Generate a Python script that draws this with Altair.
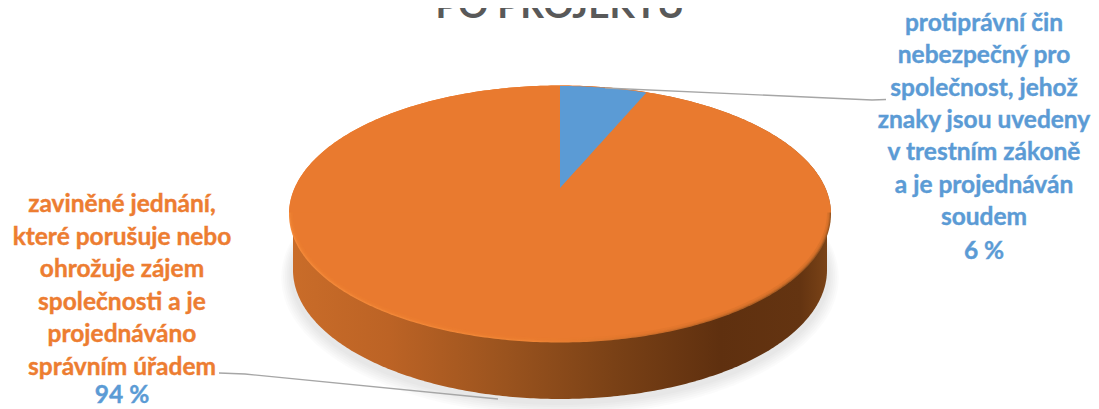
import numpy as np
import pandas as pd
import altair as alt

shares = [6, 94]
share_labels = ["6 %", "94 %"]
title_text = "PO PROJEKTU"
blue_lines = ["protiprávní čin", "nebezpečný pro", "společnost, jehož", "znaky jsou uvedeny",
              "v trestním zákoně", "a je projednáván", "soudem"]
orange_lines = ["zaviněné jednání,", "které porušuje nebo", "ohrožuje zájem",
                "společnosti a je", "projednáváno", "správním úřadem"]

BLUE, ORANGE = "#5B9BD5", "#ED7D31"
xs = alt.Scale(domain=[8, 1091], range=[0, 1083])
ys = alt.Scale(domain=[8, 409], range=[0, 401])


def ellipse(cx, cy, rx, ry, n=240):
    t = np.linspace(0, np.pi, n)
    x = cx - rx * np.cos(t)
    return pd.DataFrame({"x": x, "y": cy - ry * np.sin(t), "y2": cy + ry * np.sin(t)})


def area(df, **kw):
    return alt.Chart(df).mark_area(**kw).encode(
        x=alt.X("x:Q", scale=xs, axis=None),
        y=alt.Y("y:Q", scale=ys, axis=None),
        y2="y2:Q",
    )


def grad(stops):
    return alt.LinearGradient(gradient="linear", x1=0, x2=1, y1=0, y2=0,
                              stops=[alt.GradientStop(color=c, offset=o) for o, c in stops])


# soft shadow below the disc
shadow = [area(ellipse(560, 274 + 0.6 * i, 268 + 1.8 * i, 129 + 1.5 * i), color="#000000", opacity=0.016)
          for i in range(6, 0, -1)]

# side wall: silhouette from the top face's centre line to the lower ellipse
low = ellipse(560, 270, 267, 129)
low["y"] = 214.0
side = area(low, color=grad([(0, "#C96C29"), (0.18, "#BC6325"), (0.4, "#9A531E"),
                             (0.6, "#7A4116"), (0.8, "#5F300F"), (0.95, "#643411"), (1, "#7A4317")]))

# bevelled rim and top face, softened by a few translucent steps
rim = area(ellipse(560, 214, 271, 128.5),
           color=grad([(0, "#F58A3A"), (0.45, "#F08535"), (0.7, "#C96B28"), (1, "#9A5620")]))
soft = [area(ellipse(560, 213.6 - 0.25 * i, 270 - 0.8 * i, 127.8 - 0.6 * i), color="#E97A2F", opacity=0.45)
        for i in range(3)]
face = area(ellipse(560, 212.5, 267, 125.5), color="#E97A2F")
face_top = area(ellipse(560, 214, 271, 128.5).assign(y2=212.5), color="#E97A2F")

# the 6 % slice: its rim is foreshortened by the 3D view
apex_x, apex_y = 560, 188
t_end = shares[0] / sum(shares) * 2 * np.pi * 0.86
t = np.linspace(0, t_end, 40)
sx = 560 + 271 * np.sin(t)
sy = 214 - 128 * np.cos(t)
slice_df = pd.DataFrame({"x": sx, "y": sy,
                         "y2": apex_y + (sx - apex_x) / (sx[-1] - apex_x) * (sy[-1] - apex_y)})
blue = area(slice_df, color=BLUE)

# leader lines
leaders = pd.DataFrame({
    "g": ["a", "a", "a", "b", "b", "b"],
    "o": [0, 1, 2, 0, 1, 2],
    "x": [605, 872, 886, 219, 245, 498],
    "y": [88, 100, 99.5, 373, 374, 399],
})
lead = alt.Chart(leaders).mark_line(color="#A6A6A6", strokeWidth=1.4).encode(
    x=alt.X("x:Q", scale=xs, axis=None), y=alt.Y("y:Q", scale=ys, axis=None),
    detail="g:N", order="o:Q")

# texts
rows = [{"t": s, "x": 984, "y": 24 + 32.3 * i, "c": BLUE} for i, s in enumerate(blue_lines)]
rows.append({"t": share_labels[0], "x": 984, "y": 252, "c": BLUE})
rows += [{"t": s, "x": 122, "y": 205 + 32.6 * i, "c": ORANGE} for i, s in enumerate(orange_lines)]
rows.append({"t": share_labels[1], "x": 122, "y": 396, "c": BLUE})
labels = alt.Chart(pd.DataFrame(rows)).mark_text(
    font="Lato", fontSize=24.5, fontWeight="bold", align="center", baseline="middle", strokeWidth=0.4
).encode(x=alt.X("x:Q", scale=xs, axis=None), y=alt.Y("y:Q", scale=ys, axis=None),
         text="t:N", color=alt.Color("c:N", scale=None), stroke=alt.Stroke("c:N", scale=None))

# the reference crops this title at the top of the picture; the same lower part stays visible here
title = alt.Chart(pd.DataFrame({"t": [title_text], "x": [560], "y": [18]})).mark_text(
    font="Lato", fontSize=37, fontWeight="bold", align="center", baseline="alphabetic", color="#595959"
).encode(x=alt.X("x:Q", scale=xs, axis=None), y=alt.Y("y:Q", scale=ys, axis=None), text="t:N")

chart = alt.layer(*shadow, side, rim, *soft, face, face_top, blue, lead, labels, title).properties(
    width=1083, height=401, padding=0, autosize="none",
).configure_view(stroke=None)

chart.save("out.html", embed_options={"renderer": "svg", "actions": False})
